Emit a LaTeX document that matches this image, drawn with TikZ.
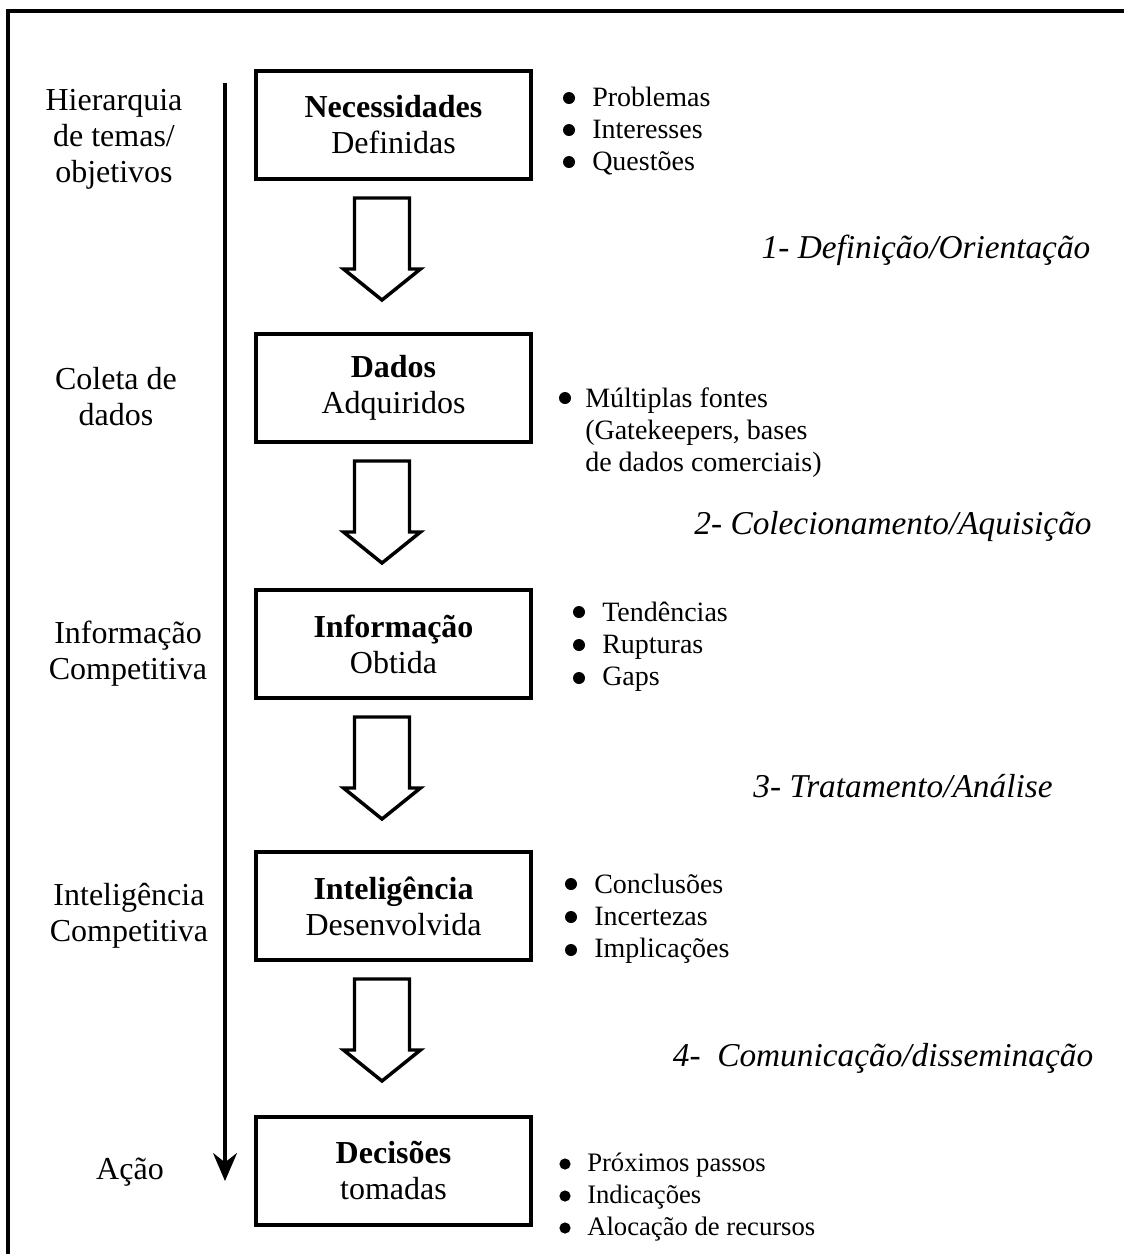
\documentclass[tikz,border=0pt]{standalone}
\usepackage{fontspec}
\setmainfont{Liberation Serif}
\usetikzlibrary{arrows.meta,calc}

\begin{document}
\begin{tikzpicture}[x=0.75pt,y=-0.75pt,
  stagebox/.style={draw,line width=3pt,minimum width=206pt,minimum height=81pt,
    align=center,inner sep=0pt,font=\fontsize{24}{27}\selectfont},
  sidelabel/.style={align=center,inner sep=0pt,font=\fontsize{24}{27}\selectfont},
  itemlist/.style={anchor=west,align=left,inner sep=0pt,font=\fontsize{21}{24}\selectfont},
  phase/.style={inner sep=0pt,font=\fontsize{25}{28}\selectfont\itshape},
  blockarrow/.style={draw,line width=2.6pt,line join=miter,fill=white},
  flow/.style={line width=2.3pt,-{Stealth[length=21pt,width=18pt,inset=7pt]}}]

\useasboundingbox (0,0) rectangle (1124,1254);

% outer frame (open on the right and at the bottom)
\draw[line width=3pt] (1124,11) -- (8,11) -- (8,1254);

% vertical timeline
\coordinate (ts) at (225,83);
\coordinate (te) at (225,1181);
\draw[flow] (ts) -- (te);

% left-hand labels
\node[sidelabel] (l1) at (114,139) {Hierarquia\\de temas/\\objetivos};
\node[sidelabel] (l2) at (116,397) {Coleta de\\dados};
\node[sidelabel] (l3) at (128,654) {Informação\\Competitiva};
\node[sidelabel] (l4) at (129,916) {Inteligência\\Competitiva};
\node[sidelabel] (l5) at (130,1172) {Ação};

% stage boxes
\node[stagebox] (b1) at (393.5,125) {\textbf{Necessidades}\\Definidas};
\node[stagebox] (b2) at (393.5,388) {\textbf{Dados}\\Adquiridos};
\node[stagebox] (b3) at (393.5,644) {\textbf{Informação}\\Obtida};
\node[stagebox] (b4) at (393.5,906) {\textbf{Inteligência}\\Desenvolvida};
\node[stagebox] (b5) at (393.5,1170.5) {\textbf{Decisões}\\tomadas};

% hollow block arrows between stages
\newcommand\blockarrowat[1]{%
  \draw[blockarrow] (#1) ++(-27.5,0) -- ++(0,71) -- ++(-11,0) -- ++(38.5,31)
    -- ++(38.5,-31) -- ++(-11,0) -- ++(0,-71) -- cycle;}
\coordinate (a1) at (382,198);
\coordinate (a2) at (382,461);
\coordinate (a3) at (382,717);
\coordinate (a4) at (382,979);
\blockarrowat{a1}
\blockarrowat{a2}
\blockarrowat{a3}
\blockarrowat{a4}

% item lists
\node[itemlist] (i1) at (592,131) {Problemas\\Interesses\\Questões};
\node[itemlist] (i2) at (585,433) {Múltiplas fontes\\(Gatekeepers, bases\\de dados comerciais)};
\node[itemlist] (i3) at (602,647) {Tendências\\Rupturas\\Gaps};
\node[itemlist] (i4) at (594,919) {Conclusões\\Incertezas\\Implicações};
\node[itemlist,font=\fontsize{20}{24}\selectfont] (i5) at (587,1197) {Próximos passos\\Indicações\\Alocação de recursos};

% list bullets
\foreach \y in {98,130,162} \fill (569,\y) circle (4.5pt);
\fill (565,398) circle (4.5pt);
\foreach \y in {612,645,678} \fill (579,\y) circle (4.5pt);
\foreach \y in {884,917,950} \fill (571,\y) circle (4.5pt);
\foreach \y in {1164,1196,1228} \fill (565,\y) circle (4.2pt);

% phase labels
\node[phase] (p1) at (926,250) {1- Definição/Orientação};
\node[phase] (p2) at (893,526) {2- Colecionamento/Aquisição};
\node[phase] (p3) at (903,786) {3- Tratamento/Análise};
\node[phase] (p4) at (883,1058) {4-\ \ Comunicação/disseminação};

\end{tikzpicture}
\end{document}
